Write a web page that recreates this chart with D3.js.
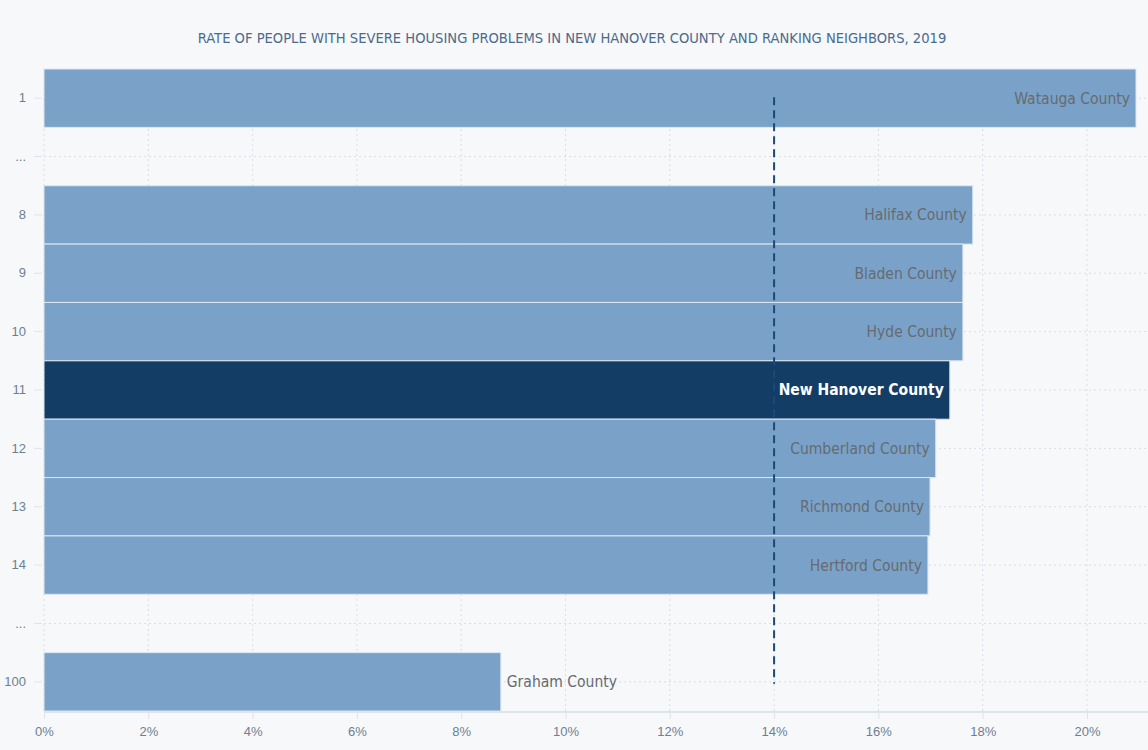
<!DOCTYPE html>
<html>
<head>
<meta charset="utf-8">
<script src="https://cdn.jsdelivr.net/npm/d3@7"></script>
<style>
  html, body { margin: 0; padding: 0; background: #f7f8fa; }
  svg { display: block; font-family: "DejaVu Sans Condensed", "Liberation Sans Narrow", "Roboto", sans-serif; }
</style>
</head>
<body>
<div id="chart"></div>
<script>
// rows of the chart, top to bottom; gaps are the "..." rows
const rowKeys = ["r1", "gap1", "r8", "r9", "r10", "r11", "r12", "r13", "r14", "gap2", "r100"];
const rankLabels = ["1", "...", "8", "9", "10", "11", "12", "13", "14", "...", "100"];
const counties = ["Watauga County", "", "Halifax County", "Bladen County", "Hyde County",
  "New Hanover County", "Cumberland County", "Richmond County", "Hertford County", "", "Graham County"];
const rates = [20.94, null, 17.81, 17.62, 17.62, 17.37, 17.10, 16.99, 16.95, null, 8.76];
const highlight = "New Hanover County";
const referenceRate = 14;
const xTicks = [0, 2, 4, 6, 8, 10, 12, 14, 16, 18, 20];

const width = 1148, height = 750;
const margin = {top: 69, right: 12, bottom: 39, left: 44};

const svg = d3.select("#chart").append("svg")
  .attr("width", width)
  .attr("height", height);

svg.append("rect").attr("width", width).attr("height", height).attr("fill", "#f7f8fa");

// title
svg.append("text")
  .attr("x", 572)
  .attr("y", 43)
  .attr("text-anchor", "middle")
  .attr("fill", "#4b6b8c")
  .style("font-size", "14.6px")
  .text("RATE OF PEOPLE WITH SEVERE HOUSING PROBLEMS IN NEW HANOVER COUNTY AND RANKING NEIGHBORS, 2019");

const x = d3.scaleLinear()
  .domain([0, d3.max(rates)])
  .range([margin.left, width - margin.right]);

const y = d3.scaleBand()
  .domain(rowKeys)
  .range([margin.top, height - margin.bottom])
  .padding(0);

const rows = rowKeys.map((k, i) => ({key: k, rank: rankLabels[i], county: counties[i], rate: rates[i]}));

// grid
const grid = svg.append("g");
grid.selectAll(".vgrid").data(xTicks).enter().append("line")
  .attr("x1", d => x(d)).attr("x2", d => x(d))
  .attr("y1", margin.top).attr("y2", height - margin.bottom)
  .attr("stroke", "#d9dde5").attr("stroke-dasharray", "2,3");
grid.selectAll(".hgrid").data(rowKeys).enter().append("line")
  .attr("x1", margin.left).attr("x2", width)
  .attr("y1", d => y(d) + y.bandwidth() / 2).attr("y2", d => y(d) + y.bandwidth() / 2)
  .attr("stroke", "#d9dde5").attr("stroke-dasharray", "2,3");

// bars
const bars = rows.filter(d => d.rate != null);
svg.selectAll(".bar").data(bars).enter().append("rect")
  .attr("x", x(0))
  .attr("y", d => y(d.key))
  .attr("width", d => x(d.rate) - x(0))
  .attr("height", y.bandwidth())
  .attr("fill", d => d.county === highlight ? "#143d66" : "#7aa2c8")
  .attr("stroke", "#dce6f0")
  .attr("stroke-width", 1);

// dashed reference line
svg.append("line")
  .attr("x1", x(referenceRate)).attr("x2", x(referenceRate))
  .attr("y1", y(rowKeys[0]) + y.bandwidth() / 2 - 1)
  .attr("y2", y(rowKeys[rowKeys.length - 1]) + y.bandwidth() / 2 + 2)
  .attr("stroke", "#1b4a78")
  .attr("stroke-width", 2)
  .attr("stroke-dasharray", "8,5");

// bar labels: inside on the right unless the bar is short
svg.selectAll(".label").data(bars).enter().append("text")
  .attr("x", d => d.rate > 10 ? x(d.rate) - 6 : x(d.rate) + 6)
  .attr("y", d => y(d.key) + y.bandwidth() / 2)
  .attr("dy", "0.35em")
  .attr("text-anchor", d => d.rate > 10 ? "end" : "start")
  .attr("fill", d => d.county === highlight ? "#ffffff" : "#666b70")
  .style("font-size", "15.5px")
  .style("font-weight", d => d.county === highlight ? "600" : "normal")
  .text(d => d.county);

// y axis
const yAxis = svg.append("g")
  .attr("transform", `translate(${margin.left - 2},0)`)
  .call(d3.axisLeft(y).tickSize(8).tickPadding(8).tickFormat((d, i) => rankLabels[i]));
yAxis.select(".domain").remove();
yAxis.selectAll("line").attr("stroke", "#dfe3ea");
yAxis.selectAll("text").attr("fill", "#6d7f92").style("font-size", "13px");

// x axis
const xAxis = svg.append("g")
  .attr("transform", `translate(0,${height - margin.bottom + 1})`)
  .call(d3.axisBottom(x).tickValues(xTicks).tickSize(7).tickPadding(8).tickFormat(d => d + "%"));
xAxis.select(".domain").attr("stroke", "#dfe3ea").attr("stroke-width", 2)
  .attr("d", `M${margin.left},0H${width}`);
xAxis.selectAll("line").attr("stroke", "#dfe3ea");
xAxis.selectAll("text").attr("fill", "#6d7f92").style("font-size", "13px");
</script>
</body>
</html>
